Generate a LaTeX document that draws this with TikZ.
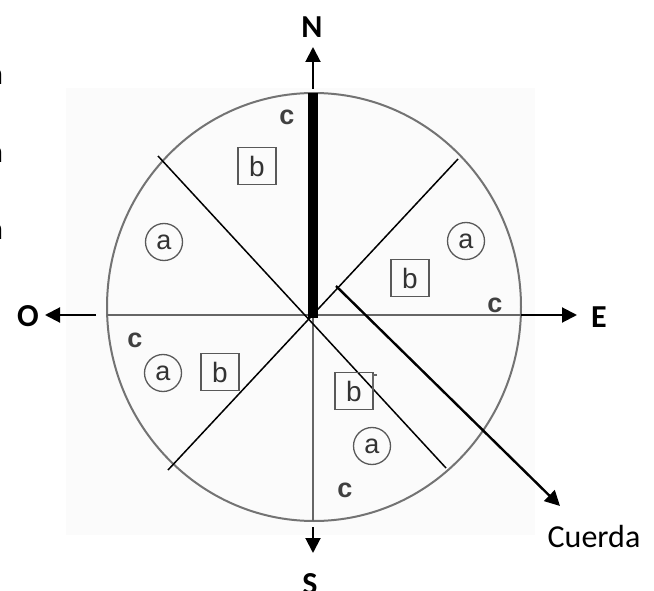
\documentclass[tikz,border=0pt]{standalone}
\usepackage{fontspec}
\setmainfont{Carlito}
\newfontfamily\arialf{Liberation Sans}
\usetikzlibrary{arrows.meta}
\begin{document}
\begin{tikzpicture}[x=1pt,y=-1pt,
  dirlab/.style={font=\fontsize{32}{38}\selectfont\bfseries, inner sep=0pt},
  boxb/.style={draw=black!65, line width=1.3pt, minimum width=38pt, minimum height=37pt, inner sep=0pt, font=\arialf\fontsize{28}{32}\selectfont, text=black!80},
  circa/.style={circle, draw=black!65, line width=1.3pt, minimum size=37pt, inner sep=0pt, font=\arialf\fontsize{27}{32}\selectfont, text=black!80},
  labc/.style={font=\arialf\bfseries\fontsize{27}{30}\selectfont, text=black!75, inner sep=0pt},
  arr/.style={line width=2pt, -{Triangle[length=15pt,width=15pt]}},
  thinline/.style={line width=1.5pt, black},
  greyline/.style={line width=1.8pt, black!60},
  edgea/.style={font=\fontsize{32}{38}\selectfont\bfseries, anchor=base east, inner sep=0pt},
]
\useasboundingbox (0,0) rectangle (654,591);
\fill[black!1.5] (66,88) rectangle (535,535);

% key points
\coordinate (ctr) at (313,315);
\coordinate (top) at (313,93);
\coordinate (bot) at (313,521);
\coordinate (lft) at (107,315);
\coordinate (rgt) at (521,315);
\coordinate (nw) at (158,156);
\coordinate (se) at (446,468);
\coordinate (ne) at (458,159);
\coordinate (sw) at (168,470);
\coordinate (cstart) at (336,286);
\coordinate (ctip) at (560,506);
\coordinate (nstart) at (313,89);
\coordinate (ntip) at (313,47);
\coordinate (sstart) at (313,527);
\coordinate (stip) at (313,553);
\coordinate (ostart) at (96,315);
\coordinate (otip) at (45,315);
\coordinate (etip) at (577,315);

% circle
\draw[black!55, line width=2pt] (314,307) ellipse [x radius=207pt, y radius=214pt];

% grey axes
\draw[greyline] (lft) -- (rgt);
\draw[greyline, line width=1.5pt] (ctr) -- (bot);

% diagonals
\draw[thinline] (nw) -- (se);
\draw[thinline] (ne) -- (sw);

% thick north bar
\draw[line width=10pt, black] (top) -- (313,318);

% cuerda
\draw[arr, line width=2.4pt] (cstart) -- (ctip);

% compass arrows
\draw[arr] (nstart) -- (ntip);
\draw[arr] (sstart) -- (stip);
\draw[arr] (ostart) -- (otip);
\draw[arr] (rgt) -- (etip);

% direction labels
\node[dirlab] (N) at (312,27) {N};
\node[dirlab] (S) at (310,584) {S};
\node[dirlab] (O) at (28,316) {O};
\node[dirlab] (E) at (599,317) {E};
\node[font=\fontsize{32}{38}\selectfont, inner sep=0pt] (cuerda) at (594,537) {Cuerda};

% cut-off letters at left edge
\node[edgea] (a1) at (3,85) {a};
\node[edgea] (a2) at (3,163) {a};
\node[edgea] (a3) at (3,240) {a};

% sector NW
\node[labc] (c1) at (287,117) {c};
\node[boxb] (b1) at (257,166) {b};
% sector W
\node[circa] (ca1) at (164,242) {a};
% sector NE
\node[circa] (ca2) at (466,241) {a};
\node[boxb] (b2) at (410,278) {b};
\node[labc] (c2) at (495,305) {c};
% sector SW
\node[labc] (c3) at (135,340) {c};
\node[circa] (ca3) at (163,373) {a};
\node[boxb] (b3) at (220,372) {b};
% sector SE
\node[boxb] (b4) at (354,391) {b};
\draw[black!60, line width=1.2pt] (377,375) -- (373,375) -- (373,388);
\node[circa] (ca4) at (372,446) {a};
\node[labc] (c4) at (345,490) {c};
\end{tikzpicture}
\end{document}
